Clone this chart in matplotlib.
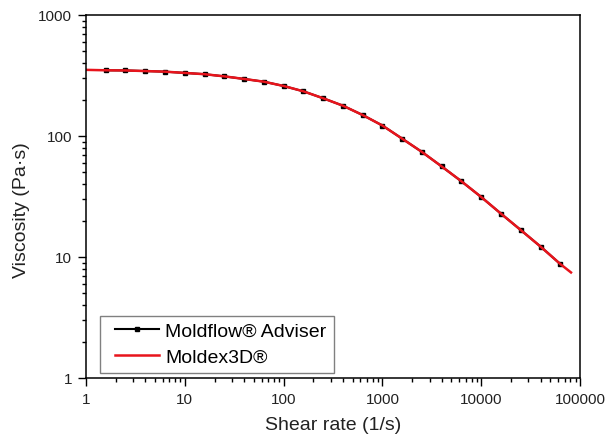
import numpy as np
import matplotlib
matplotlib.use("Agg")
import matplotlib.pyplot as plt
from matplotlib.lines import Line2D
from matplotlib.legend_handler import HandlerLine2D

plt.rcParams['font.family'] = ['Liberation Sans', 'DejaVu Sans']

# Moldflow Adviser points
shear_mf = [1.585, 2.512, 3.981, 6.310, 10, 15.85, 25.12, 39.81, 63.10, 100,
            158.5, 251.2, 398.1, 631.0, 1000, 1585, 2512, 3981, 6310, 10000,
            15849, 25119, 39811, 63096]
visc_mf = [349, 348, 344, 340, 332, 324, 311, 296, 281, 259,
           234, 205, 178, 149, 122, 95, 73.8, 56, 42.2, 31.3,
           22.8, 16.7, 12.2, 8.75]

# Moldex3D curve
shear_mx = [1, 1.585, 2.512, 3.981, 6.310, 10, 15.85, 25.12, 39.81, 63.10, 100,
            158.5, 251.2, 398.1, 631.0, 1000, 1585, 2512, 3981, 6310, 10000,
            15849, 25119, 39811, 63096, 81000]
visc_mx = [352, 349, 348, 344, 340, 332, 324, 311, 296, 281, 259,
           234, 205, 178, 149, 122, 95, 73.8, 56, 42.2, 31.3,
           22.8, 16.7, 12.2, 8.75, 7.45]

fig = plt.figure(figsize=(6.08, 4.39), dpi=100)
ax = fig.add_axes([0.1414, 0.1367, 0.8126, 0.8269])

ax.plot(shear_mf, visc_mf, color="black", lw=1.5, marker="s", ms=3.5,
        label="Moldflow® Adviser")
ax.plot(shear_mx, visc_mx, color="#e8141c", lw=1.8, label="Moldex3D®")

ax.set_xscale("log")
ax.set_yscale("log")
ax.set_xlim(1, 100000)
ax.set_ylim(1, 1000)
ax.set_xticks([1, 10, 100, 1000, 10000, 100000])
ax.set_xticklabels(["1", "10", "100", "1000", "10000", "100000"])
ax.set_yticks([1, 10, 100, 1000])
ax.set_yticklabels(["1", "10", "100", "1000"])
ax.tick_params(which="major", length=6, width=1, labelsize=11, pad=4,
               labelcolor="#222222")
ax.tick_params(which="minor", length=3, width=1)
for s in ax.spines.values():
    s.set_linewidth(1.1)

ax.set_xlabel("Shear rate (1/s)", fontsize=14, labelpad=7, color="#222222")
ax.set_ylabel("Viscosity (Pa·s)", fontsize=14, color="#222222")
ax.yaxis.set_label_coords(-0.113, 0.465)

# extra room left of the handle lines, like the original legend
leg = ax.legend(loc="lower left", bbox_to_anchor=(0.0275, 0.0138), fontsize=14,
                fancybox=False, framealpha=1, edgecolor="#808080",
                handlelength=2.72, handletextpad=0.3, borderpad=0.36,
                labelspacing=0.42, borderaxespad=0,
                handler_map={Line2D: HandlerLine2D(xpad=0.42)})
leg.get_frame().set_linewidth(1.0)

plt.savefig("out.png", dpi=100)
